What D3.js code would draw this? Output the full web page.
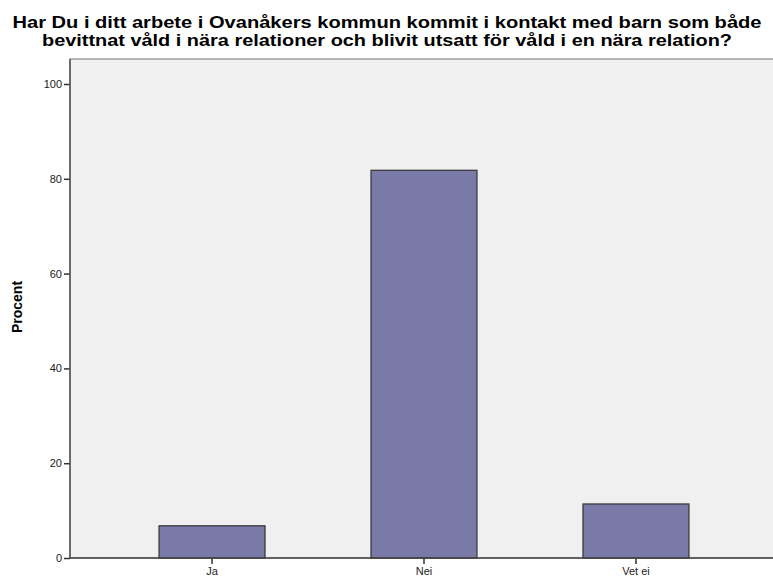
<!DOCTYPE html>
<html>
<head>
<meta charset="utf-8">
<script src="https://cdn.jsdelivr.net/npm/d3@7"></script>
<style>
  body { margin: 0; background: #fff; }
  svg { display: block; font-family: "Liberation Sans", Arial, sans-serif; }
</style>
</head>
<body>
<div id="container"></div>
<script>
// chart data
const categories = ["Ja", "Nei", "Vet ei"];
const values = [6.8, 81.8, 11.4];
const yTicks = [0, 20, 40, 60, 80, 100];
const titleLines = [
  "Har Du i ditt arbete i Ovanåkers kommun kommit i kontakt med barn som både",
  "bevittnat våld i nära relationer och blivit utsatt för våld i en nära relation?"
];
const titleWidths = [749, 690];

const width = 773;
const height = 581;

// plot frame
const frame = { left: 70, top: 59, right: 778, bottom: 558 };

const svg = d3.select("#container")
  .append("svg")
  .attr("width", width)
  .attr("height", height);

// title
svg.append("g")
  .selectAll("text")
  .data(titleLines)
  .enter()
  .append("text")
  .attr("x", 387)
  .attr("y", (d, i) => 28 + i * 18)
  .attr("text-anchor", "middle")
  .attr("font-size", 17)
  .attr("font-weight", "bold")
  .attr("textLength", (d, i) => titleWidths[i])
  .attr("lengthAdjust", "spacingAndGlyphs")
  .attr("fill", "#000")
  .text(d => d);

// background
svg.append("rect")
  .attr("x", frame.left)
  .attr("y", frame.top)
  .attr("width", frame.right - frame.left)
  .attr("height", frame.bottom - frame.top)
  .attr("fill", "#f0f0f0")
  .attr("stroke", "#888")
  .attr("stroke-width", 1.2);

// scales
const x = d3.scaleBand()
  .domain(categories)
  .range([frame.left, frame.right])
  .paddingInner(0.5)
  .paddingOuter(0.42);

const y = d3.scaleLinear()
  .domain([0, 100])
  .range([frame.bottom, 84]);

// bars
svg.append("g")
  .selectAll("rect")
  .data(categories)
  .enter()
  .append("rect")
  .attr("x", d => x(d))
  .attr("y", (d, i) => y(values[i]))
  .attr("width", x.bandwidth())
  .attr("height", (d, i) => y(0) - y(values[i]))
  .attr("fill", "#7a7aa8")
  .attr("stroke", "#333")
  .attr("stroke-width", 1.2);

// y axis
const yAxis = svg.append("g")
  .attr("transform", `translate(${frame.left},0)`)
  .call(d3.axisLeft(y).tickValues(yTicks).tickSize(6).tickSizeOuter(0).tickPadding(2));
yAxis.select(".domain").remove();
yAxis.selectAll(".tick line").attr("stroke", "#333").attr("stroke-width", 1.5);
yAxis.selectAll(".tick text").attr("font-size", 11).attr("fill", "#222")
  .attr("font-family", "Liberation Sans, Arial, sans-serif");

svg.append("line")
  .attr("x1", frame.left).attr("x2", frame.left)
  .attr("y1", frame.top).attr("y2", frame.bottom)
  .attr("stroke", "#555").attr("stroke-width", 1.5);

// x axis
const xAxis = svg.append("g")
  .attr("transform", `translate(0,${frame.bottom})`)
  .call(d3.axisBottom(x).tickSize(6).tickSizeOuter(0).tickPadding(3));
xAxis.select(".domain").remove();
xAxis.selectAll(".tick line").attr("stroke", "#333").attr("stroke-width", 1.5);
xAxis.selectAll(".tick text").attr("font-size", 11).attr("fill", "#222")
  .attr("font-family", "Liberation Sans, Arial, sans-serif");

svg.append("line")
  .attr("x1", frame.left).attr("x2", frame.right)
  .attr("y1", frame.bottom).attr("y2", frame.bottom)
  .attr("stroke", "#444").attr("stroke-width", 1.5);

// y label
svg.append("text")
  .attr("transform", "translate(22,307) rotate(-90)")
  .attr("text-anchor", "middle")
  .attr("font-size", 14)
  .attr("font-weight", "bold")
  .text("Procent");
</script>
</body>
</html>
